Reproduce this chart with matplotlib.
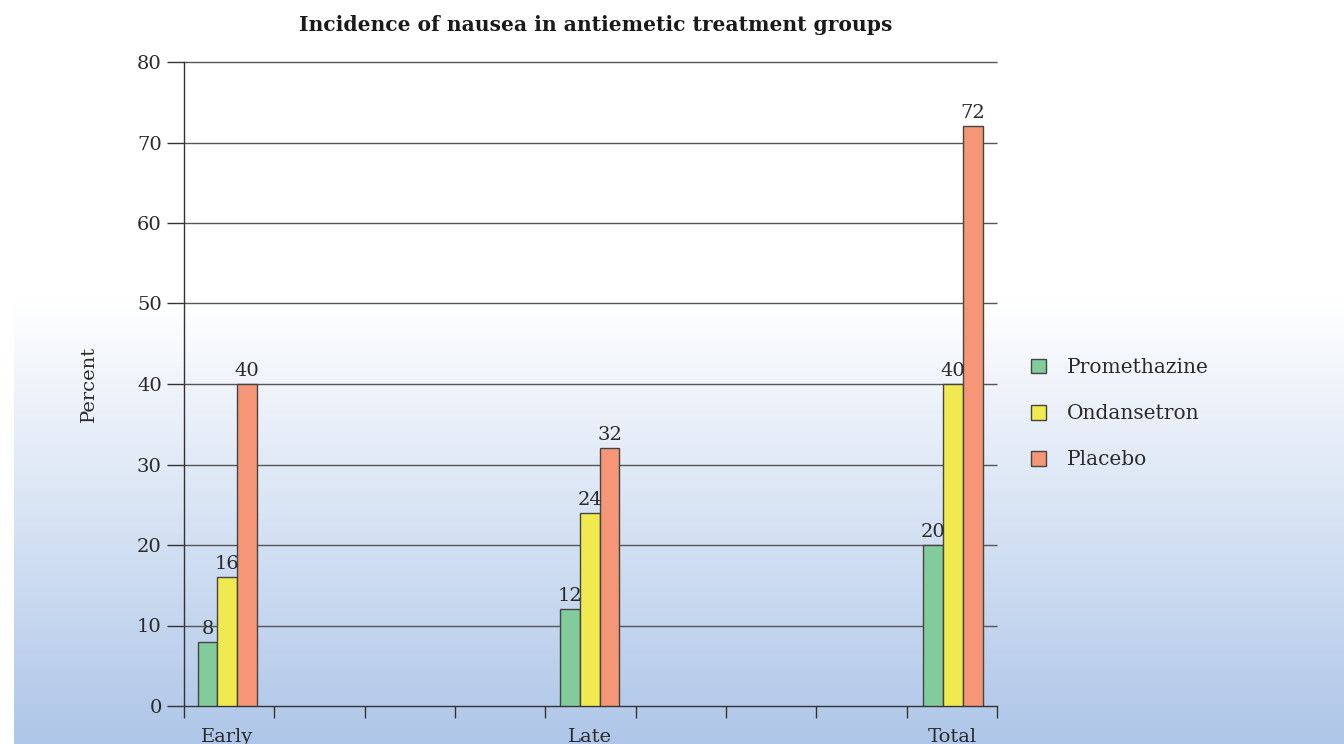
import numpy as np
import matplotlib
matplotlib.use("Agg")
import matplotlib.pyplot as plt
from matplotlib.patches import Patch

plt.rcParams['font.family'] = ['DejaVu Serif', 'Liberation Serif']

# Data
categories = ["Early", "Late", "Total"]
series_names = ["Promethazine", "Ondansetron", "Placebo"]
promethazine = [8, 12, 20]
ondansetron = [16, 24, 40]
placebo = [40, 32, 72]
yticks = [0, 10, 20, 30, 40, 50, 60, 70, 80]

colors = ["#82CB9A", "#F0EA50", "#F59677"]
edge = "#444444"
text_color = "#2a2a2a"

W, H = 1344, 744
fig = plt.figure(figsize=(W / 100, H / 100), dpi=100)
fig.patch.set_facecolor("white")

# Background: white-to-blue vertical gradient in the lower part of the figure
bg = fig.add_axes([0, 0, 1, 1], zorder=-10)
bg.set_xlim(0, W)
bg.set_ylim(H, 0)
bg.axis("off")
grad = np.linspace(0, 1, 256)[:, None]
top_rgb = np.array([1.0, 1.0, 1.0])
bot_rgb = np.array([174, 198, 232]) / 255.0
img = top_rgb[None, None, :] * (1 - grad[..., None]) + bot_rgb[None, None, :] * grad[..., None]
bg.imshow(img, extent=[14, W, H, 300], aspect="auto", interpolation="bicubic")

# Main plotting area
ax = fig.add_axes([184 / W, 1 - 706 / H, (997 - 184) / W, (706 - 62) / H])
ax.set_facecolor("none")
ax.set_xlim(0, 9)
ax.set_ylim(0, 80)

for side in ["top", "right"]:
    ax.spines[side].set_visible(False)
for side in ["left", "bottom"]:
    ax.spines[side].set_color("#333333")
    ax.spines[side].set_linewidth(1.0)

# Horizontal rules at each y tick
ax.hlines(yticks[1:], 0, 9, colors="#555555", linewidth=1.0, zorder=1, clip_on=False)

group_pos = np.array([0.48, 4.49, 8.51])
bw = 0.22
offsets = [-bw, 0, bw]
all_series = [promethazine, ondansetron, placebo]
for vals, off, col, name in zip(all_series, offsets, colors, series_names):
    bars = ax.bar(group_pos + off, vals, width=bw, color=col, edgecolor=edge,
                  linewidth=1.0, zorder=3, label=name)
    for b, v in zip(bars, vals):
        ax.text(b.get_x() + b.get_width() / 2, v + 0.5, f"{v}", ha="center",
                va="bottom", fontsize=14, color=text_color, zorder=4)

# Axis ticks
ax.set_yticks(yticks)
ax.set_yticklabels([str(t) for t in yticks], fontsize=14, color=text_color)
ax.tick_params(axis="y", direction="out", length=12, width=1.0, color="#333333", pad=4)

ax.set_xticks(np.arange(0, 10))
ax.set_xticklabels([])
ax.tick_params(axis="x", which="major", direction="out", length=8.5, width=1.0, color="#333333")
ax.set_xticks(group_pos, minor=True)
ax.set_xticklabels(categories, minor=True, fontsize=14, color=text_color)
ax.tick_params(axis="x", which="minor", length=0, pad=16)

ax.set_ylabel("Percent", fontsize=14, color=text_color, labelpad=28)

fig.text((302 + 889) / 2 / W, 1 - 25 / H, "Incidence of nausea in antiemetic treatment groups",
         ha="center", va="center", fontsize=14.6, fontweight="bold", color="#1a1a1a")

handles = [Patch(facecolor=c, edgecolor=edge, linewidth=1.0) for c in colors]
leg = fig.legend(handles, series_names, loc="upper left",
                 bbox_to_anchor=(1023 / W, 1 - 350 / H), frameon=False,
                 fontsize=14.5, handlelength=0.75, handleheight=0.75,
                 handletextpad=1.05, labelspacing=1.35, borderaxespad=0)
for t in leg.get_texts():
    t.set_color(text_color)

fig.savefig("out.png", dpi=100)
